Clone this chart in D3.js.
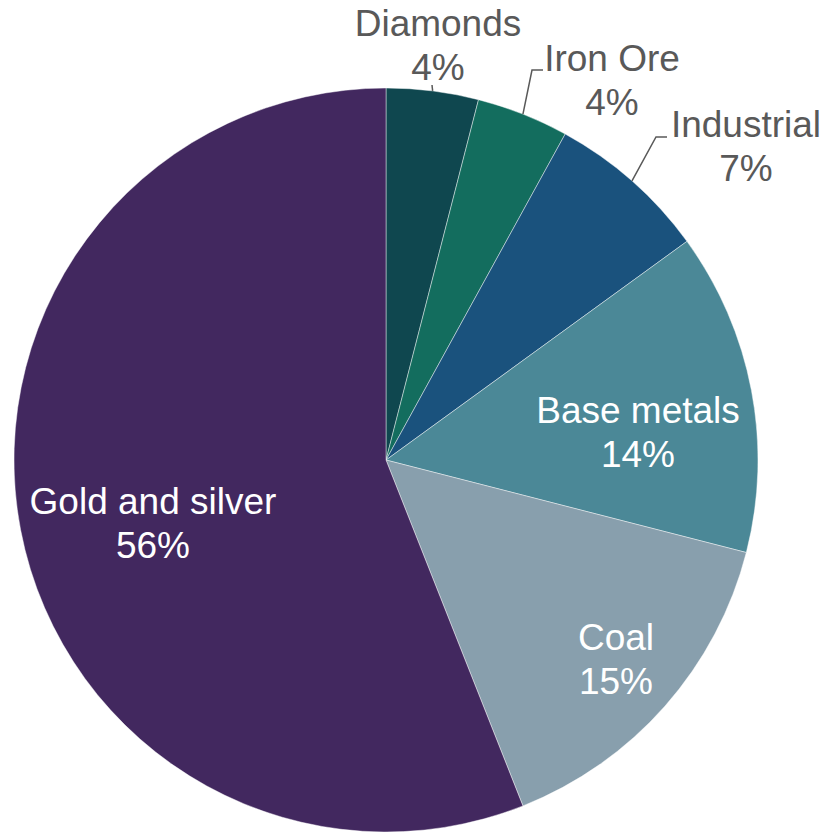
<!DOCTYPE html>
<html>
<head>
<meta charset="utf-8">
<script src="https://cdn.jsdelivr.net/npm/d3@7"></script>
<style>
  html, body { margin: 0; padding: 0; background: #ffffff; }
  svg { display: block; }
</style>
</head>
<body>
<svg id="chart" width="827" height="832"></svg>
<script>
// Share of mining output by commodity (percent)
const categories = ["Diamonds", "Iron Ore", "Industrial", "Base metals", "Coal", "Gold and silver"];
const shares = [4, 4, 7, 14, 15, 56];
const colors = ["#0f474f", "#136d5e", "#1a527d", "#4b8897", "#889fad", "#42285f"];

// Label placement: inside labels sit on the slice, outside ones hang off a leader line
const labelLayout = {
  "Diamonds":        { x: 438, y: 36, outside: true, elbow: null, end: [432, 85] },
  "Iron Ore":        { x: 612, y: 71, outside: true, elbow: [532, 70], end: [543, 70] },
  "Industrial":      { x: 746, y: 137, outside: true, elbow: [656, 137], end: [667, 137] },
  "Base metals":     { x: 638, y: 423, outside: false },
  "Coal":            { x: 616, y: 650, outside: false },
  "Gold and silver": { x: 153, y: 514, outside: false }
};

const cx = 386, cy = 460, radius = 372;
const svg = d3.select("#chart");
const g = svg.append("g").attr("transform", `translate(${cx},${cy})`);

const data = categories.map((c, i) => ({ category: c, value: shares[i], color: colors[i] }));

const pie = d3.pie().sort(null).value(d => d.value).startAngle(0).endAngle(2 * Math.PI);
const arc = d3.arc().innerRadius(0).outerRadius(radius);

const arcs = pie(data);

g.selectAll("path.slice")
  .data(arcs)
  .join("path")
  .attr("class", "slice")
  .attr("d", arc)
  .attr("fill", d => d.data.color)
  .attr("stroke", "rgba(255,255,255,0.55)")
  .attr("stroke-width", 0.8);

// Leader lines for the small slices
arcs.forEach(d => {
  const lay = labelLayout[d.data.category];
  if (!lay.outside) return;
  const mid = (d.startAngle + d.endAngle) / 2;
  const start = [cx + radius * Math.sin(mid), cy - radius * Math.cos(mid)];
  const pts = [start];
  if (lay.elbow) pts.push(lay.elbow);
  pts.push(lay.end);
  svg.append("path")
    .attr("d", d3.line()(pts))
    .attr("fill", "none")
    .attr("stroke", "#595959")
    .attr("stroke-width", 1.5);
});

// Category name with percentage underneath
const font = "'Liberation Sans', Arial, Helvetica, sans-serif";
arcs.forEach(d => {
  const lay = labelLayout[d.data.category];
  const t = svg.append("text")
    .attr("x", lay.x)
    .attr("y", lay.y)
    .attr("text-anchor", "middle")
    .attr("font-family", font)
    .attr("font-size", 37)
    .attr("fill", lay.outside ? "#595959" : "#ffffff");
  t.append("tspan").attr("x", lay.x).text(d.data.category);
  t.append("tspan").attr("x", lay.x).attr("dy", 44).text(d.data.value + "%");
});
</script>
</body>
</html>
